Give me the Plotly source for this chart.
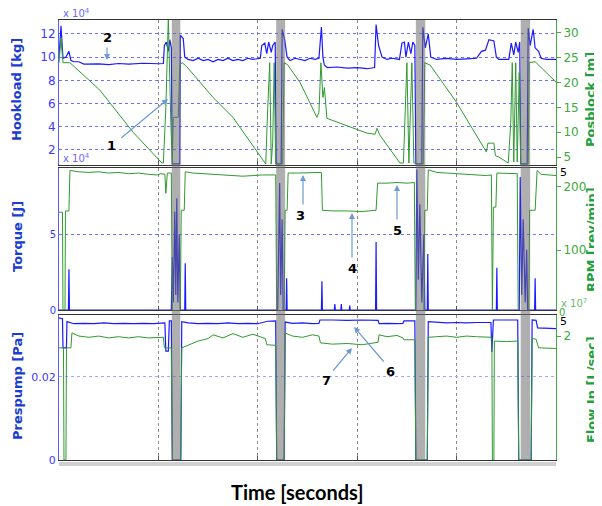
import plotly.graph_objects as go

# ---------------- data (time in % of record) ----------------
hook_x = [0, 0.4, 0.8, 1.4, 2.0, 2.4, 3.0, 4.0, 5.0, 8.0, 10.0, 12.0, 14.0, 17.0, 20.0, 21.0, 21.2, 21.6, 22.0, 22.3, 22.6, 22.8, 24.3,
          24.4, 25.0, 25.3, 26.0, 27, 28, 29, 30, 31, 32, 33, 34, 35, 36, 37, 38, 39, 40.5, 40.8, 41.4, 41.8, 42.2, 42.7, 43.0, 43.5,
          43.7, 44.7, 44.9, 45.4, 45.9, 46.5, 47.5, 48.5, 49.5, 50.5, 51.5, 52.3, 52.5, 52.8, 53.1, 53.4, 54.0, 56, 58, 60, 62, 63.5,
          63.8, 64.3, 65.0, 66, 67, 68.5, 69.0, 69.5, 69.8, 70.3, 70.8, 71.2, 71.6, 71.8, 73.0, 73.2, 73.7, 74.3, 74.8, 76, 78, 80,
          82, 84, 85.0, 85.8, 86.5, 87.5, 88.0, 88.5, 90.5, 91.0, 91.5, 91.9, 92.4, 92.7, 92.9, 94.2, 94.4, 94.8, 95.4, 95.8, 96.5,
          97.0, 98, 100]
hook_y = [10.0, 12.7, 9.9, 10.0, 10.5, 9.7, 9.6, 9.6, 9.4, 9.42, 9.35, 9.45, 9.4, 9.47, 9.43, 9.45, 11.0, 11.3, 10.5, 11.5, 10.8, 0.8, 0.8,
          11.9, 11.6, 10.0, 9.8, 9.7, 9.9, 9.7, 9.8, 9.6, 9.8, 9.7, 9.9, 9.7, 9.8, 9.7, 9.9, 9.8, 9.9, 11.0, 11.2, 10.3, 11.3, 10.4, 11.0, 11.3,
          0.8, 0.8, 12.4, 11.5, 10.0, 9.7, 9.9, 9.8, 9.7, 9.9, 9.8, 9.9, 11.3, 12.6, 10.0, 9.3, 9.1, 9.15, 9.05, 9.1, 9.0, 9.1,
          12.8, 11.0, 10.0, 9.8, 9.9, 9.8, 11.2, 11.3, 10.0, 11.3, 10.3, 11.3, 11.0, 0.8, 0.8, 12.6, 10.8, 12.0, 10.0, 9.8, 9.9, 9.8,
          9.85, 9.9, 10.5, 10.6, 11.5, 11.4, 10.0, 9.8, 9.8, 11.2, 10.2, 11.3, 10.4, 11.3, 0.8, 0.8, 12.5, 11.0, 12.4, 10.8, 10.5,
          9.9, 9.8, 9.8]

pos_x = [0, 0.4, 0.8, 2.2, 8.2, 14.9, 20.7, 21.0, 21.5, 22.0, 22.5, 22.8, 23.0, 24.0, 24.3, 24.8, 25.7, 31, 35, 41, 41.6, 42.0, 42.4,
         42.7, 43.0, 43.3, 43.6, 45.0, 45.3, 46, 48.5, 51.9, 52.3, 52.7, 53.1, 53.4, 53.9, 62, 63.6, 64.0, 64.5, 68.6, 69.3, 70.0,
         70.4, 71.0, 71.4, 73.3, 73.6, 74.7, 80, 86, 86.3, 87.5, 87.8, 88.5, 90.4, 90.9, 91.2, 91.5, 91.9, 92.2, 92.6, 92.9, 94.4,
         94.6, 95.8, 100]
pos_y = [24, 29, 24, 24, 18.5, 10.0, 3.8, 3.8, 15, 33, 12, 3.5, 13, 13, 23.5, 24, 23.2, 17, 13, 4.4, 3.6, 15, 24,
         3.6, 8, 24, 3.6, 3.6, 24, 23.6, 20, 13, 14, 24, 17, 19, 12.8, 9.8, 9.6, 10.8, 9.5, 3.8, 3.8, 24,
         3.8, 24, 3.8, 3.6, 24, 23.5, 16, 6, 7.8, 7.8, 5.3, 5.0, 3.8, 12, 24, 4, 24, 4, 22, 3.6, 3.6,
         24, 24.2, 20.1]

torque_x = [0, 1.9, 2.0, 2.1, 22.6, 22.8, 23.0, 23.3, 23.5, 23.7, 23.9, 24.2, 24.4, 25.3, 25.4, 25.5, 44.0, 44.2, 44.4, 44.6,
            44.9, 45.1, 45.7, 45.8, 45.9, 52.8, 52.9, 53.0, 55.4, 55.5, 55.6, 56.7, 56.8, 56.9, 58.4, 58.5, 58.6, 63.7, 63.8,
            63.9, 71.8, 72.0, 72.3, 72.6, 73.0, 73.4, 73.6, 74.1, 74.2, 74.3, 88.0, 88.1, 88.2, 92.6, 92.8, 93.1, 93.4, 93.8,
            94.1, 94.3, 95.7, 95.8, 95.9, 100]
torque_y = [0, 0, 2.7, 0, 0, 3.5, 0.5, 6.5, 1, 7.4, 0.5, 5, 0, 0, 3.1, 0, 0, 4, 8.4, 1,
            6, 0, 0, 2.1, 0, 0, 1.9, 0, 0, 0.4, 0, 0, 0.4, 0, 0, 0.3, 0, 0, 4.5,
            0, 0, 9.3, 2, 7, 0.5, 5, 0, 0, 3.7, 0, 0, 2.8, 0, 0, 8.8, 1, 6, 0.5,
            4, 0, 0, 2.1, 0, 0]

rpm_x = [0, 0.7, 0.8, 1.2, 1.3, 2.0, 2.2, 4, 6, 8, 10, 12, 14, 16, 18, 19.7, 20.5, 21.3, 21.5, 21.8, 22.6, 22.8, 24.4, 24.6,
         25.2, 25.4, 27, 29, 31, 33, 35, 37, 39, 41, 43.6, 43.8, 45.3, 45.5, 45.9, 46.1, 48, 50, 52.8, 53.0, 55, 58, 61, 63.8,
         64.1, 66, 68, 70, 71.5, 71.7, 73.4, 73.6, 74.1, 74.3, 76, 78, 80, 82, 84, 86, 87.0, 87.2, 87.4, 87.9, 88.1, 90, 92.2,
         92.4, 94.5, 94.7, 95.8, 96.2, 97, 100]
rpm_y = [160, 160, 0, 0, 162, 162, 226, 224, 223, 224, 222, 223, 221, 222, 220, 219, 221, 220, 190, 222, 222, 0, 0, 163,
         163, 224, 222, 221, 220, 219, 218, 217, 218, 219, 219, 0, 0, 163, 163, 222, 222, 222, 223, 163, 162, 162, 161, 163,
         206, 206, 207, 206, 207, 0, 0, 163, 163, 227, 223, 222, 221, 220, 219, 218, 219, 0, 168, 168, 222, 222, 221,
         0, 0, 163, 163, 226, 220, 218]

pres_x = [0, 0.7, 0.8, 1.5, 1.6, 3, 5, 7, 9, 11, 13, 15, 17, 19, 21.3, 21.5, 22.0, 22.2, 22.6, 22.8, 24.5, 24.7, 26, 28, 30, 32,
          34, 36, 38, 40, 42, 43.6, 43.8, 45.3, 45.5, 47, 49, 51, 52.3, 52.5, 55, 58, 61, 64.2, 64.4, 66, 68, 69.2, 69.4, 71.6,
          71.8, 74.1, 74.3, 76, 78, 80, 82, 84, 86.9, 87.1, 87.4, 90, 92.3, 92.5, 95.0, 95.2, 96.0, 96.3, 98, 100]
pres_y = [0.0342, 0.0340, 0.0270, 0.0270, 0.0333, 0.0328, 0.0329, 0.0328, 0.0330, 0.0328, 0.0329, 0.0328, 0.0329, 0.0328,
          0.0330, 0.0262, 0.0262, 0.0335, 0.0335, 0, 0, 0.0333, 0.0330, 0.0328, 0.0329, 0.0328, 0.0330, 0.0328, 0.0329, 0.0328,
          0.0334, 0.0335, 0, 0, 0.0332, 0.0329, 0.0330, 0.0328, 0.0329, 0.0337, 0.0337, 0.0336, 0.0337, 0.0336, 0.0328, 0.0329,
          0.0328, 0.0329, 0.0335, 0.0335, 0, 0, 0.0333, 0.0331, 0.0330, 0.0331, 0.0330, 0.0331, 0.0331, 0.0260, 0.0337, 0.0337,
          0.0337, 0, 0, 0.0337, 0.0336, 0.0318, 0.0317, 0.0316]

flow_x = [0, 0.9, 1.0, 1.4, 1.5, 2.4, 2.6, 4, 6, 8, 10, 12, 14, 16, 18, 20, 21.0, 21.2, 22.6, 22.8, 24.5, 24.7, 26, 28, 30, 31,
          33, 35, 37, 39, 41.5, 41.8, 43.6, 43.8, 45.3, 45.5, 47, 49, 51, 52.3, 52.6, 55, 58, 61, 64.2, 64.4, 66, 68, 69.2, 69.4,
          71.6, 71.8, 74.1, 74.3, 76, 78, 80, 82, 84, 87.1, 87.2, 87.5, 87.6, 90, 92.3, 92.5, 95.0, 95.2, 96.0, 96.5, 100]
flow_y = [1.81, 1.81, 0, 0, 1.81, 1.81, 2.05, 2.0, 1.98, 2.0, 1.97, 1.99, 1.97, 1.99, 1.97, 1.98, 1.98, 1.81, 1.81, 0, 0, 1.81,
          1.85, 1.92, 1.96, 2.02, 1.97, 2.04, 1.98, 2.03, 1.96, 1.86, 1.85, 0, 0, 2.05, 2.0, 1.98, 2.02, 2.0, 1.89, 1.87, 1.88,
          1.86, 1.9, 2.02, 1.99, 2.01, 1.97, 1.94, 1.94, 0, 0, 1.98, 1.99, 2.0, 1.98, 2.0, 1.99, 1.98, 0, 0, 1.92, 1.91, 1.92,
          0, 0, 1.96, 1.95, 1.81, 1.80]

# connection events (gray bands), in time units
band_start = [22.7, 43.7, 71.8, 92.9]
band_end = [24.4, 45.5, 73.7, 94.8]

hook_ticks = [2, 4, 6, 8, 10, 12]
pos_ticks = [5, 10, 15, 20, 25, 30]
torque_ticks = [0, 5]
rpm_ticks = [100, 200]
pres_ticks = [0, 0.02]
pres_ticktext = ["0", "0.02"]
flow_ticks = [2]
time_grid = [20, 40, 60, 80]

BLUE = "#1a1aff"
GREEN = "#2f9a2f"
TBLUE = "#3a3aff"
TGREEN = "#3aaa3a"

fig = go.Figure()
fig.add_trace(go.Scatter(x=hook_x, y=hook_y, xaxis="x3", yaxis="y", mode="lines", line=dict(color=BLUE, width=1.2)))
fig.add_trace(go.Scatter(x=pos_x, y=pos_y, xaxis="x3", yaxis="y2", mode="lines", line=dict(color=GREEN, width=1)))
fig.add_trace(go.Scatter(x=torque_x, y=torque_y, xaxis="x2", yaxis="y3", mode="lines", line=dict(color=BLUE, width=1.2)))
fig.add_trace(go.Scatter(x=rpm_x, y=rpm_y, xaxis="x2", yaxis="y4", mode="lines", line=dict(color=GREEN, width=1)))
fig.add_trace(go.Scatter(x=pres_x, y=pres_y, xaxis="x", yaxis="y5", mode="lines", line=dict(color=BLUE, width=1.2)))
fig.add_trace(go.Scatter(x=flow_x, y=flow_y, xaxis="x", yaxis="y6", mode="lines", line=dict(color=GREEN, width=1)))

xcommon = dict(range=[0, 100], tickvals=time_grid, showticklabels=False, showgrid=True,
               gridcolor="#8a8a8a", griddash="dot", gridwidth=1, zeroline=False,
               showline=True, mirror=True, linecolor="#333333", linewidth=1,
               ticks="inside", ticklen=4, tickcolor="#555555")
ycommon_left = dict(showline=True, linecolor="#5a5aff", linewidth=1, zeroline=False,
                    showgrid=True, gridcolor="#7070ff", griddash="dot", gridwidth=1,
                    ticks="", tickfont=dict(family="DejaVu Sans", color=TBLUE))
ycommon_right = dict(showline=True, linecolor="#44aa44", linewidth=1, zeroline=False, showgrid=False,
                     ticks="outside", ticklen=4, tickcolor="#44aa44",
                     tickfont=dict(family="DejaVu Sans", color=TGREEN))

d1 = [(460 - 165) / 440, 1.0]
d2 = [(460 - 310) / 440, (460 - 168) / 440]
d3 = [0.0, (460 - 315) / 440]

# the page body adds an 8 px offset, so the figure is 8 px smaller and margins shifted
fig.update_layout(
    width=594, height=498,
    margin=dict(l=51, r=46, t=12, b=46),
    paper_bgcolor="white", plot_bgcolor="white",
    showlegend=False,
    xaxis=dict(anchor="y5", **xcommon),
    xaxis2=dict(anchor="y3", matches="x", **xcommon),
    xaxis3=dict(anchor="y", matches="x", **xcommon),
    yaxis=dict(domain=d1, range=[0.7, 13.2], tickvals=hook_ticks, **{**ycommon_left, "tickfont": dict(family="DejaVu Sans", color=TBLUE, size=12)}),
    yaxis2=dict(overlaying="y", side="right", anchor="x3", range=[3.4, 32.6], tickvals=pos_ticks,
                **{**ycommon_right, "tickfont": dict(family="DejaVu Sans", color=TGREEN, size=12)}),
    yaxis3=dict(domain=d2, range=[0, 9.4], tickvals=torque_ticks, **{**ycommon_left, "tickfont": dict(family="DejaVu Sans", color=TBLUE, size=10)}),
    yaxis4=dict(overlaying="y3", side="right", anchor="x2", range=[5, 230], tickvals=rpm_ticks,
                **{**ycommon_right, "tickfont": dict(family="DejaVu Sans", color=TGREEN, size=12)}),
    yaxis5=dict(domain=d3, range=[0, 0.0349], tickvals=pres_ticks, ticktext=pres_ticktext,
                **{**ycommon_left, "gridcolor": "#a8a8ff", "tickfont": dict(family="DejaVu Sans", color=TBLUE, size=11)}),
    yaxis6=dict(overlaying="y5", side="right", anchor="x", range=[0, 2.34], tickvals=flow_ticks,
                **{**ycommon_right, "tickfont": dict(family="DejaVu Sans", color=TGREEN, size=12)}),
)

# gray connection bands across all panels
for s, e in zip(band_start, band_end):
    fig.add_shape(type="rect", xref="x", yref="paper", x0=s, x1=e, y0=0, y1=1,
                  fillcolor="rgba(110,110,110,0.55)", line=dict(width=0), layer="above")

# light strip under bottom panel
fig.add_shape(type="rect", xref="paper", yref="paper", x0=0, x1=1, y0=-6 / 440, y1=-2 / 440,
              fillcolor="#d0d0d0", line=dict(width=0))


def P(px, py):
    return (px - 59) / 497, (460 - py) / 440


def text(px, py, s, color="black", size=12, bold=False, angle=0, family="DejaVu Sans"):
    x, y = P(px, py)
    fig.add_annotation(x=x, y=y, xref="paper", yref="paper", text=("<b>%s</b>" % s) if bold else s,
                       showarrow=False, textangle=angle, xanchor="center", yanchor="middle",
                       font=dict(color=color, size=size, family=family))


def arrow(tx, ty, hx, hy):
    x, y = P(hx, hy)
    fig.add_annotation(x=x, y=y, xref="paper", yref="paper", text="", showarrow=True,
                       ax=tx - hx, ay=ty - hy, arrowhead=2, arrowsize=1, arrowwidth=1.2,
                       arrowcolor="#6c9bd2", standoff=0, startstandoff=0)


# axis titles
text(17, 90, "Hookload [kg]", color="#1a3cd0", size=13, bold=True, angle=-90)
text(17, 237, "Torque [J]", color="#1a3cd0", size=13, bold=True, angle=-90)
text(17, 386, "Prespump [Pa]", color="#1a3cd0", size=13, bold=True, angle=-90)
text(591, 100, "Posblock [m]", color="#20a040", size=13, bold=True, angle=-90)
text(591, 240, "RPM [rev/min]", color="#20a040", size=13, bold=True, angle=-90)
text(591, 390, "Flow In [L/sec]", color="#20a040", size=13, bold=True, angle=-90)
text(297, 492, "Time [seconds]", color="black", size=20, bold=True, family="Lato")

# exponent labels
text(76, 13, "x 10<sup>4</sup>", color="#6a6aff", size=10)
text(76, 158, "x 10<sup>4</sup>", color="#6a6aff", size=10)
text(574, 303, "x 10<sup>7</sup>", color="#66bb66", size=10)
text(562, 312, "0", color="#44aa44", size=10)
text(563, 172, "5", color="black", size=11)
text(563, 322, "5", color="black", size=11)

# numbered callouts
text(107, 37, "2", bold=True, size=13)
arrow(107, 46, 107, 60)
text(111, 145, "1", bold=True, size=13)
arrow(120, 139, 168, 99)
text(300, 215, "3", bold=True, size=13)
arrow(303, 206, 303, 175)
text(352, 268, "4", bold=True, size=13)
arrow(352, 259, 352, 213)
text(397, 231, "5", bold=True, size=13)
arrow(397, 221, 397, 185)
text(390, 371, "6", bold=True, size=13)
arrow(385, 363, 354, 327)
text(326, 380, "7", bold=True, size=13)
arrow(332, 372, 352, 348)

fig.write_html("out.html")
